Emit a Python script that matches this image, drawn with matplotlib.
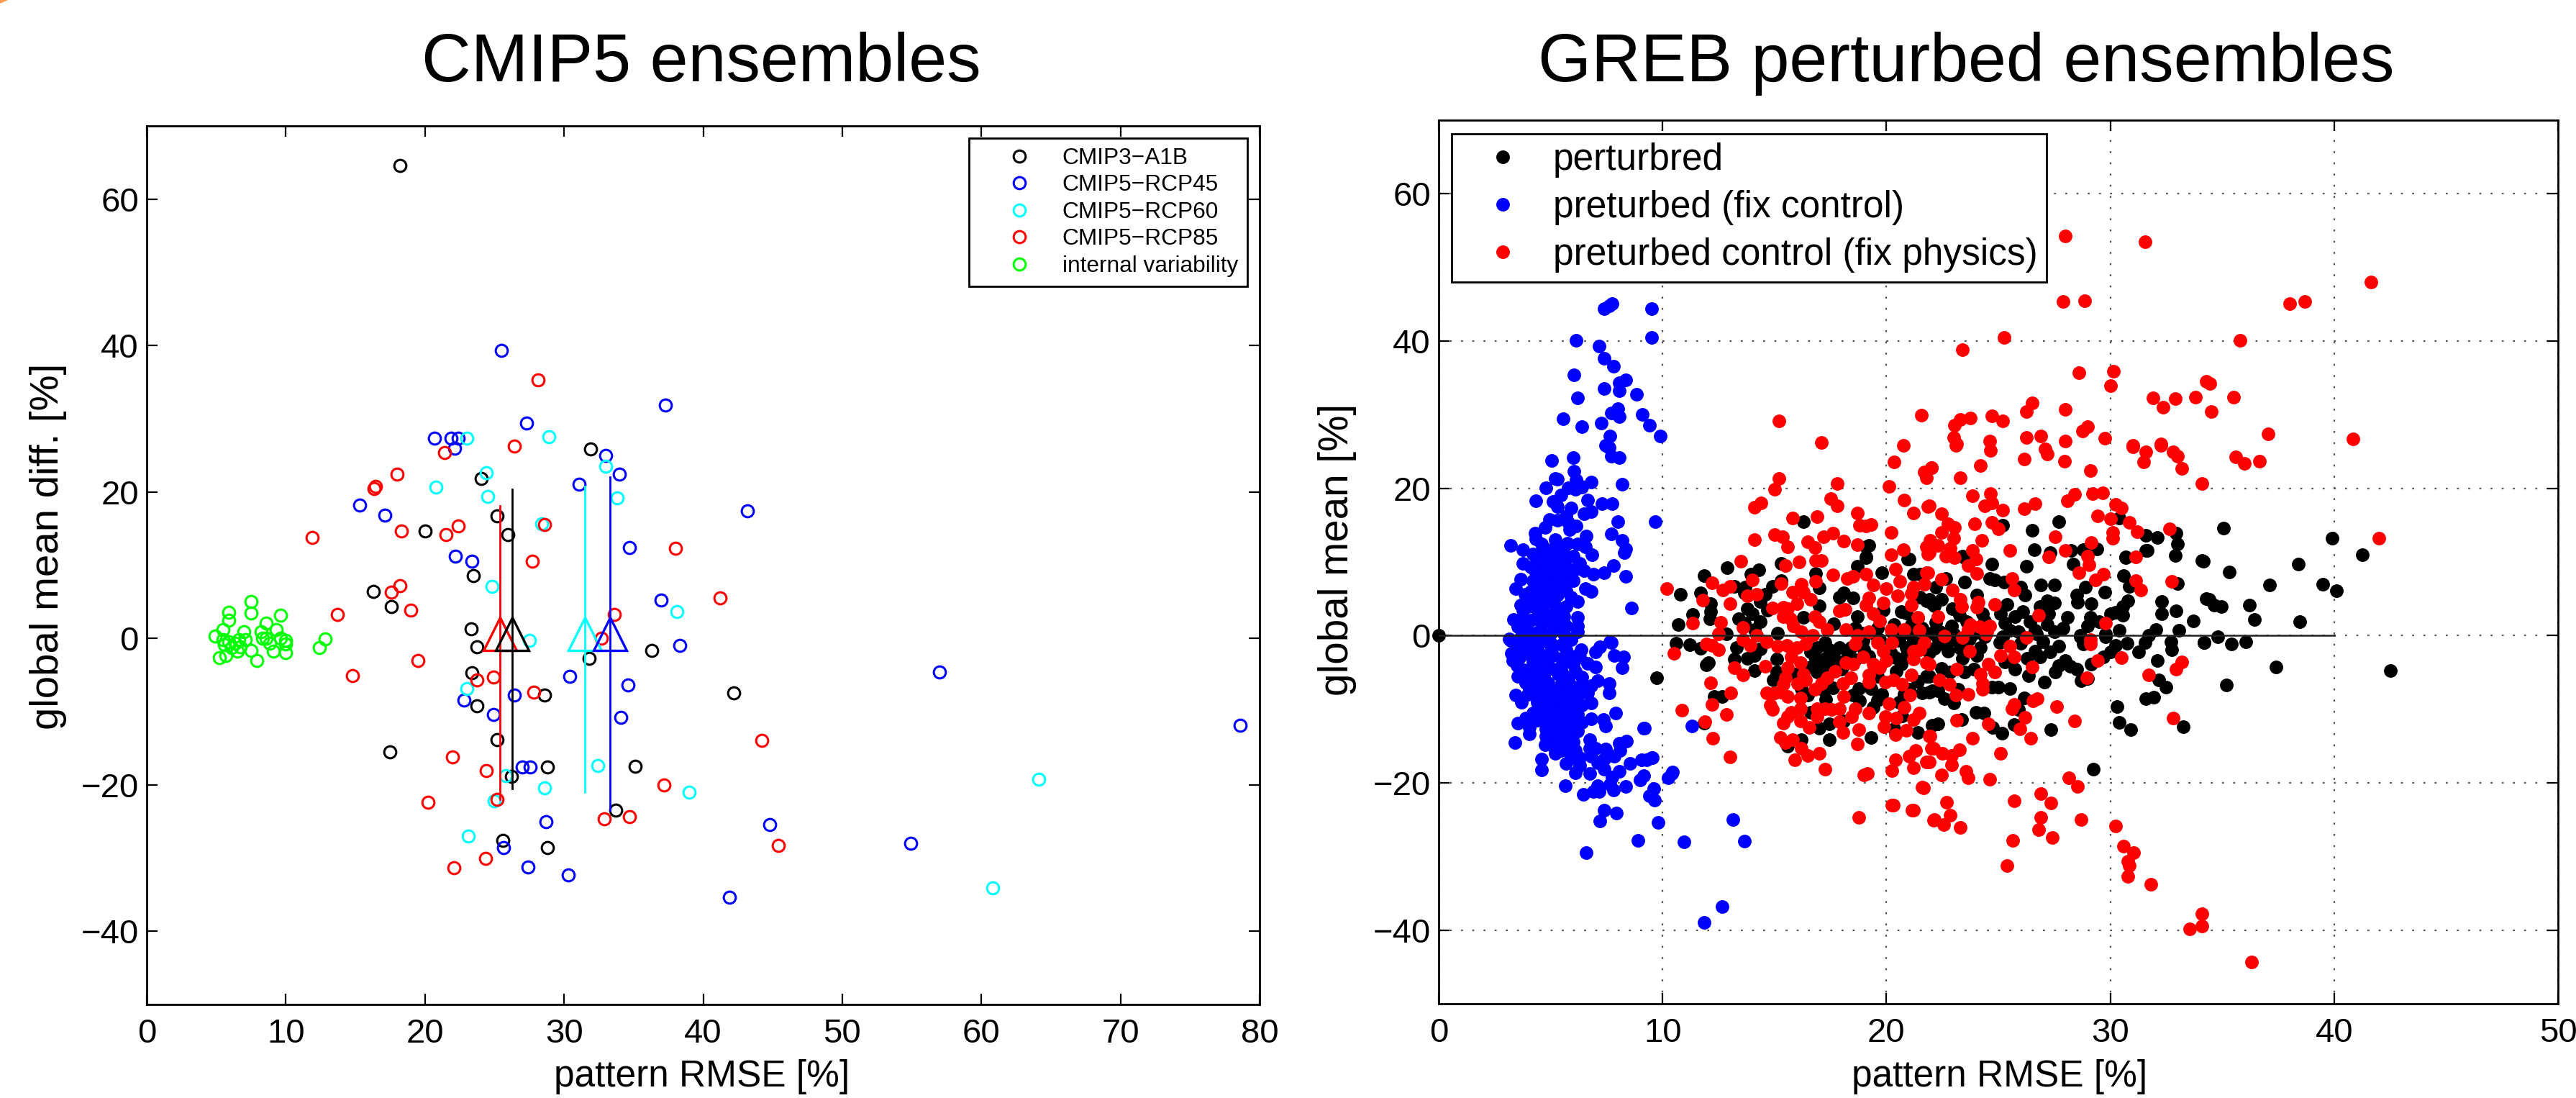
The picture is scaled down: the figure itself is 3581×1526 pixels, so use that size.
import numpy as np
import matplotlib
matplotlib.use("Agg")
import matplotlib.pyplot as plt
from matplotlib.patches import Polygon

plt.rcParams['font.family'] = ['Liberation Sans', 'DejaVu Sans']

W, H, DPI = 3581, 1526, 200

# --- left panel, CMIP ensembles (x = pattern RMSE, y = global mean diff.) ---
cmip3 = [(18.2,64.6),(31.9,25.9),(24.05,21.8),(25.2,16.7),(25.95,14.2),(20.0,14.7),(23.5,8.6),(16.3,6.4),
         (17.6,4.3),(23.3,1.3),(23.75,-1.2),(36.3,-1.6),(31.8,-2.7),(23.4,-4.7),(28.6,-7.7),(42.2,-7.4),
         (23.75,-9.2),(25.2,-13.8),(17.5,-15.5),(28.8,-17.6),(35.1,-17.5),(26.2,-18.8),(33.7,-23.5),
         (25.6,-27.6),(28.8,-28.6)]
rcp45 = [(25.5,39.3),(27.3,29.4),(37.3,31.9),(20.7,27.3),(21.9,27.3),(22.4,27.3),(22.15,26),(33,25),(34,22.4),
         (31.1,21.1),(15.3,18.2),(17.1,16.8),(43.2,17.4),(34.7,12.4),(22.2,11.2),(23.4,10.5),(37.0,5.2),
         (38.3,-1.0),(30.4,-5.2),(34.6,-6.4),(26.4,-7.7),(22.8,-8.4),(24.9,-10.4),(34.1,-10.8),(57.0,-4.6),
         (78.6,-11.9),(27.0,-17.6),(27.55,-17.6),(28.7,-25),(44.8,-25.4),(54.9,-28),(25.65,-28.6),(27.4,-31.2),
         (30.3,-32.3),(41.9,-35.4)]
rcp60 = [(23,27.3),(28.9,27.5),(33,23.5),(24.4,22.6),(20.8,20.7),(24.5,19.4),(33.8,19.2),(28.4,15.7),(24.8,7.1),
         (38.1,3.7),(27.5,-0.3),(23,-6.9),(32.4,-17.4),(25.8,-18.7),(28.6,-20.4),(39,-21),(25,-22.2),(64.1,-19.2),
         (23.1,-27),(60.8,-34.1)]
rcp85 = [(28.15,35.3),(26.4,26.3),(21.4,25.4),(18,22.4),(16.45,20.75),(16.35,20.5),(11.9,13.8),(18.3,14.7),
         (21.5,14.2),(22.4,15.4),(28.6,15.6),(38,12.3),(27.7,10.5),(41.2,5.5),(18.2,7.2),(17.6,6.3),(19,3.9),
         (13.7,3.3),(33.6,3.3),(32.7,0),(19.5,-3),(14.8,-5.1),(24.9,-5.3),(23.75,-5.7),(27.8,-7.3),(44.2,-13.9),
         (22,-16.2),(24.4,-18.1),(37.2,-20),(25.2,-22),(20.2,-22.4),(32.9,-24.6),(34.7,-24.3),(45.4,-28.3),
         (24.35,-30),(22.1,-31.3)]
internal = [(4.9,0.3),(5.9,3.6),(7.5,5),(7.5,3.5),(5.9,2.5),(9.6,3.2),(8.6,2.1),(5.5,1.25),(9.3,1.25),(7,0.9),
            (8.2,0.9),(12.8,-0.1),(12.4,-1.25),(10,-0.3),(10,-0.8),(10,-1.9),(5.2,-2.6),(5.7,-2.3),(7.9,-3),
            (7.5,-1.6),(9.1,-1.7),(6.5,-1.7),(5.6,-0.9),(6.1,-1.25),(6.7,-1.15),(7.1,-0.2),(6.6,-0.2),(8.3,0),
            (8.85,-0.7),(8.6,0),(9.6,0),(5.5,-0.2),(5.9,-0.5),(6.35,-0.7)]

# ensemble means with spread bars: x, low, high
mean_x = [25.4, 26.25, 31.5, 33.3]
mean_lo = [-22, -20.5, -21, -23.5]
mean_hi = [18.1, 20.4, 20.8, 22]
mean_y = 0.6

# --- right panel, GREB ensembles ---
perturbed = [(0,0),(16.3,15.45),(19.2,12.2),(19.1,10.55),(21,10.4),(18.7,9.4),(12.9,9.25),(15.3,9.8),(14.3,8.9),
    (11.85,8.1),(16.85,8.4),(19.8,8.5),(21.2,8.3),(21.5,8.35),(13.95,8.35),(13.2,6.65),(15.3,7.5),(17,6.5),(14.9,6.7),
    (13.7,6.55),(10.8,5.65),(11.7,5.75),(17.9,5.25),(18.1,5.75),(18.5,5.1),(14.6,5.6),(14.35,4.6),(13.65,5.75),
    (21.5,5.25),(21.8,4.75),(22.05,4.3),(12.15,4.3),(12.15,3.3),(17,4),(13.8,3.6),(14.7,3.45),(20.65,3.3),(20.9,3.1),
    (19.85,3.45),(11.35,2.85),(14,3),(18.7,2.6),(12.1,2.3),(13.4,2.3),(16.3,2.5),(10.7,1.5),(14.35,1.85),(13.65,1.65),
    (17.65,1.6),(20.35,1.5),(21.1,1.5),(21.6,1),(12.85,0.2),(15.15,0.35),(19.6,1),(18.6,1),(14.1,0.85),
    (9.75,-5.7),(10.6,-1.05),(11.2,-1.2),(11.7,-1.75),(12.05,-3.7),(11.95,-4),(13.3,-1.6),(13.2,-3.2),(13.8,-3.1),
    (14.1,-2.75),(14.35,-1.8),(14.1,-4.75),(12.3,-8.3),(12.65,-8.3),(11.85,-11.9),(14.95,-6),(15.1,-5),(15.1,-3.2),
    (16.8,-2.9),(17,-3.9),(16.6,-2.25),(17.45,-1.9),(17.9,-1.6),(17.25,-0.95),(17.65,-2.9),(15.95,-5.2),(18.75,-7.15),
    (19.3,-7.15),(18.5,-8.1),(19.8,-8),(19.6,-8.8),(21.8,-5.5),(21.6,-7.8),(22.05,-7.5),(20.65,-3.9),(20.45,-4.85),
    (20.9,-1.6),(20.55,-0.65),(21.4,-13.2),(19.3,-13.8),(17.45,-14.15),(17,-12.6),(17.45,-12),(18.1,-11.55),(16.2,-14.15),
    (15.6,-15),(20.35,-12.7),(20.7,-10.9),(20.55,-9.1),(18.4,-1.6),(18.95,-0.65),(22.05,-12.2),(16.5,-8.1),(16.2,-7.15),
    (16.6,-10.4),(19.6,-5.5),
    (27.7,15.45),(26.5,14.3),(25.2,14.95),(30.4,15.95),(31.6,13.6),(32.1,13.3),(32.95,13.95),(33,12.4),(31.6,11.55),
    (32.9,10.85),(34.15,10.1),(30.7,10.7),(26.6,11.7),(27.3,11.3),(28.25,11.55),(28.8,11.7),(29.4,11.75),(23.4,10.8),
    (24.7,9.7),(26.25,9.4),(28.35,9.7),(30.6,8.1),(30.85,6.7),(33,7.05),(24.6,7.8),(24.85,7.55),(25.25,7.25),(23.5,7.25),
    (22.65,7.75),(22.2,6.55),(26.9,6.85),(27.5,6.85),(28.9,6.55),(29.75,5.9),(28.5,5.5),(28.55,4.55),(29.15,4.3),
    (26.2,5.55),(26,6.55),(24.05,5.55),(21.9,4.9),(22.45,4.9),(22.15,4),(22.95,3.6),(25.4,4.25),(25.1,3),(27.2,4.75),
    (27.5,4.45),(26.85,3.95),(27.25,3),(32.3,4.6),(30.8,4.75),(30.55,3.95),(30.25,3.15),(30.55,2.8),(32.3,2.95),
    (32.95,3.35),(34.3,5),(34.65,4.1),(25.75,2.55),(24.3,3),(23.25,2.8),(29.1,2.5),(29.5,1.85),(29,1.35),(26.4,1.85),
    (27.2,1.5),(27.9,1.05),(26.65,0.7),(22.9,1.35),(25.3,1.65),(25.9,0.55),(30.4,0.75),(32.05,0.85),(33.05,0.75),
    (28.65,0.05),(29.8,0.2),(31.7,0.05),(25.5,0.7),(27.5,0.55),(22.4,0.55),
    (26.7,0.2),(34.2,-0.95),(32.7,-0.8),(32.75,-1.9),(31.55,-0.95),(31.25,-2.2),(32.1,-3.4),(32.15,-6),(32.5,-7),
    (31.6,-8.55),(31.95,-8.4),(30.3,-9.6),(30.4,-11.75),(30.9,-12.8),(33.25,-12.35),(29.25,-18.15),(27.35,-12.75),
    (30.75,-1),(30.25,-1.3),(30,-2.25),(29.7,-2.9),(29.15,-3.9),(28.8,-1.1),(28.65,-0.15),(29.8,-0.15),(28.5,-4.55),
    (28.2,-4.2),(28,-3.4),(27.7,-4.05),(27.55,-5),(27.05,-6.3),(28.7,-6.1),(29,-5.85),(26.35,-5.45),(25.75,-4.55),
    (25.3,-3.55),(26.65,-2.1),(26.85,-2.9),(26.3,-3.1),(25.05,-0.95),(24.2,-1.65),(24.05,-2.75),(23.4,-3.05),(22.15,-1.75),
    (22.75,-2.1),(22.45,-4.45),(22.85,-5),(23.5,-5),(23.9,-4.55),(21.9,-5.5),(25,-7),(24.7,-7),(25.5,-7.15),(23.2,-7.3),
    (22.3,-7.45),(21.9,-7.65),(22.6,-8.6),(23,-9.15),(26.15,-8.5),(25.9,-10.05),(24,-10.45),(24.35,-10.55),(23.35,-11.4),
    (22.3,-12),(24.75,-12.45),(25.15,-13.25),(25.7,-12.05),
    (42.5,-4.8),(37.4,-4.25),(35.2,-6.7),(39.5,6.95),(40.1,6.1),(37.1,6.85),(34.4,4.95),(34.95,3.95),(36.2,4.1),(36.45,2.15),
    (38.45,1.9),(34.8,-0.15),(35.4,-1.15),(36.05,-0.8),(34.2,-0.9),(38.4,9.7),(41.25,11),(35.3,8.65),(34.1,10.2),(35.05,14.6),
    (39.9,13.2),(31.65,11.6),(30.7,10.6),(23.5,10.6),(20.95,10.4),(19.1,12.1),(19.1,10.7),
    # dense middle of the cloud
    (16.9,-1.6),(17.3,-3.1),(17.9,-3.6),(18.3,-2.6),(18.6,-3.3),(19,-1.9),(19.2,-2.8),(19.7,-0.6),(20.2,-2.4),(20.4,-3),
    (20.9,-2.8),(21.2,-0.6),(21.5,-0.9),(21.9,-2.3),(22.3,-0.4),(22.6,-1.2),(23,-0.6),(23.3,-1.7),(23.7,-0.5),(24.4,-0.2),
    (16.6,-4.3),(16.9,-5),(17.4,-4.4),(18,-4.6),(17.2,-7.4),(17.6,-7.1),(17.3,-8.7),(18.8,-8.9),(19.4,-9.7),(21,-7.3),
    (21.4,-6.2),(20.8,-8),(18.9,0.3),(19.5,0.1),(20.3,0.2),(21,0.3),(22,0.3),(23,0.2),(24,0.4),(25.2,-0.2),(26,-1),(27,-0.8),
    (27.7,-1.4),(27.3,-2.2),(23.6,1.9),(24.4,2),(21.4,2.4),(22.2,1.8),(26.1,3.3),(28.1,2.5),(30,3),(33.7,2)]

fix_control = [(7.75,45.1),(7.4,44.4),(7.6,44.8),(9.5,44.4),(9.5,40.5),(6.15,40.1),(7.15,39.3),(7.4,37.7),(7.8,36.55),(6.05,35.4),
    (8.35,34.7),(8.05,34.3),(7.4,33.55),(8.05,33.25),(8.85,32.8),(6.2,32.25),(8,30.8),(7.7,30.2),(8.05,29.7),(9.1,30),(9.4,28.6),
    (5.55,29.4),(7.25,28.9),(6.4,28.4),(9.9,27.1),(7.65,27.1),(7.45,25.85),(7.6,25.5),(7.7,24.35),(8.05,24.2),(6,24.2),(5.05,23.75),
    (6.05,22.35),(5.2,21.35),(6.15,21.1),(6.8,20.85),(8.2,20.6),(5.8,20.1),(6.35,20.25),(4.8,20.1),
    (5.3,21.2),(6.4,20.2),(6.1,19.9),(5.45,19.1),(4.35,18.35),(5.1,18.2),(5.3,17.55),(6.65,18.4),(7.3,17.95),(7.75,17.95),
    (5.9,17.3),(5.7,16.3),(6.8,16.8),(6.5,16.5),(8,15.45),(4.95,15.75),(5.3,15.7),(4.75,14.7),(5.8,15.35),(6.15,14.85),(5.85,14.35),
    (7.7,13.8),(4.3,13.95),(4.35,13.1),(6.6,13.5),(8.2,12.9),(8.35,11.75),(8.3,11.25),(3.2,12.25),(3.75,11.7),(5.2,13.05),(5.75,12.55),
    (6.2,12.4),(6.55,12.1),(4.65,11.9),(6.85,10.95),(4.2,11.1),(5.15,11.4),(5.55,11.4),(6,10.8),(3.75,9.85),(4.5,10.1),(5.05,9.8),
    (5.45,9.8),(6.3,9.8),(7.8,9.55),(7.4,8.55),(6.9,8.35),(6.5,8.8),(8.35,8),(4.3,8.8),(4.8,8.5),(5.65,8.5),(3.65,7.7),(4.2,7.5),
    (4.7,7.35),(6,7.5),(5.25,7.5),(3.45,6.4),(4.3,6.55),(4.7,6.2),(3.85,5.6),(6.55,6.4),(6.8,5.95),(5.3,5.55),(5.7,6.05),(6.2,4.6),
    (3.65,4.1),(4.05,4.75),(3.75,3.45),(8.6,3.7),(4.7,4.25),(5.25,3.95),(5.7,3.95),(4.5,2.95),(3.35,2.15),(6.2,2.5),(6.2,1.35),
    (5.35,1.65),(5.7,1.35),(4.6,1.65),(3.55,1.2),(3.95,0.7),(4.55,0.7),(6.2,0.5),(5.15,1.35),(9.66,15.45),
    (3.15,-0.45),(5.9,-0.6),(7.65,-0.8),(3.2,-0.65),(3.65,-0.3),(4.2,-0.3),(4.8,-0.3),(5.9,-0.45),(6.35,-1.95),(7.2,-1.55),(7.7,-0.95),
    (7.85,-2.75),(8.25,-2.9),(8.2,-4.4),(3.25,-2.4),(3.75,-1.95),(4.4,-1.75),(5.05,-1.6),(5.7,-1.95),(6.3,-2.9),(6.65,-3.8),(3.5,-4.05),
    (4.2,-3.55),(4.8,-3.55),(5.45,-4.2),(6,-3.9),(3.55,-5.5),(4.2,-5.2),(4.7,-5.35),(5.35,-5.2),(5.8,-5.85),(6.4,-5.6),(7.1,-6.15),
    (6.8,-6.8),(7.6,-6.5),(7.6,-7.8),(3.45,-8.1),(4.05,-7.15),(4.6,-7.15),(5.15,-7.45),(5.7,-7.8),(6.2,-8.1),(6.65,-7.8),(6.8,-9.2),
    (3.7,-9.1),(4.4,-9.1),(4.9,-9.1),(5.45,-9.25),(4.2,-10.55),(4.7,-10.7),(5.25,-10.9),(5.7,-10.7),(6.2,-10.7),(7.9,-10.55),(6.8,-11.3),
    (7.35,-11.4),(7.45,-12.3),(3.55,-11.85),(3.9,-11.2),(4.05,-12.5),(4.05,-13.35),(4.8,-12.7),(5.25,-12.35),(5.65,-12.7),(6.2,-13),
    (3.4,-14.55),(4.75,-14.8),(4.8,-13.65),(5.35,-14),(5.9,-14),(5.45,-15.6),(6.75,-14.1),(6.75,-15.3),(6.1,-15.6),(6.3,-16.6),(9.15,-12.6),
    (8.4,-14.3),(8.05,-14.6),(7.45,-15.45),(7,-15.3),(7.85,-16.4),(8.1,-15.6),(4.6,-16.8),(4.6,-18.2),(5.7,-17.4),(6.1,-18.65),(6.3,-17.7),
    (6.75,-18.75),(7.1,-17.25),(7.4,-18.15),(8.05,-18.45),(7.75,-19.2),(8.55,-17.35),(9.05,-16.9),(9.3,-16.9),(9,-19.6),(9.15,-19),(5.65,-20.4),
    (7.1,-20.35),(7.65,-20.2),(8.35,-20.5),(7.8,-21),(6.9,-21.15),(7.15,-21.15),(6.45,-21.6),(9.4,-21.8),(7.4,-23.75),(7.95,-24.1),(7.2,-25.15),
    (8.9,-27.8),(6.6,-29.45),(11.3,-12.3),(9.55,-16.6),(10.4,-18.7),(10.25,-19.35),(9.6,-20.8),(9.65,-22.3),(9.8,-25.4),(13.15,-25),
    (13.65,-27.9),(10.95,-28),(12.65,-36.8),(11.85,-38.95),(10.45,-18.5),(9.5,-16.6),(9.2,-12.6),
    # solid core of the blue cloud
    (3.9,-6.4),(4.9,-6.4),(5.5,-6.4),(4.3,-8.2),(5,-4.5),(4.4,3.5),(5,2.4),(5.4,3),(4.7,5.3),(5.1,7),(5.2,9),(5.6,10.7),
    (3.5,-1.2),(4,-1),(4.5,-1),(5,-1),(5.5,-1.2),(3.6,-3),(4.1,-2.7),(4.6,-2.6),(5.1,-2.7),(5.6,-3),(6.1,-2.8),(3.8,-4.7),(4.4,-4.5),
    (5.5,-5),(6.1,-4.9),(3.9,-6.3),(4.4,-6.2),(5.9,-6.8),(6.3,-7),(4,-8),(4.8,-8.2),(5.3,-8.3),(5.9,-9),(6.4,-9.4),(4.5,-9.9),(5,-10),
    (5.5,-10),(6,-9.8),(4.4,-11.5),(4.9,-11.5),(5.4,-11.6),(5.9,-11.7),(6.4,-11.8),(5,-13),(5.5,-13.3),(6,-14.4),(5.1,-15),(5.7,-15),
    (5.2,-16),(5.9,-16.6),(6.8,-16.4),(7.4,-16.8),(4.4,0.4),(5,0.3),(5.6,0.2),(3.7,2.3),(4.1,2.1),(4.9,2.8),(5.6,2.6),(4,3.9),(4.5,4.9),
    (5.1,5),(5.9,5.2),(4.1,6),(5,6.3),(5.5,7),(4.6,8),(5.2,8.3),(4.1,9.3),(4.9,9.3),(5.7,9.3),(6.1,9),(4.8,10.7),(5.4,10.6),(4.6,12.4),
    (5.2,12.2),(3.3,-3.4),(7,-2.2),(7,-4.3)]

fix_physics = [(15.2,21.3),(15.0,19.9),(17.8,20.7),(14.4,18),(14.1,17.4),(17.5,18.6),(17.8,17.6),(15.8,16),(16.9,16.2),(18.7,16.6),(18.8,15),
    (19.1,14.9),(19.3,15.1),(20.1,20.3),(20.35,23.6),(20.8,18.4),(21.2,16.6),(21.85,17.5),(20.2,14),(21.7,22.2),(22,22.8),(21.8,21.4),
    (14.1,13),(15,13.7),(15.35,13.45),(15.6,12.1),(16.5,12.75),(16.8,12),(17.2,13.4),(17.6,13.9),(18.1,12.8),(18.7,12.35),(20.2,11),(20.75,11.7),
    (21.8,12.1),(21.85,11.1),(13.5,10.1),(16.1,10),(16.85,10.2),(17.1,10.2),(15.5,9.55),(20.4,9),(17.6,8.2),(18.25,7.8),(18.5,8),(19.1,8.35),
    (21.8,8.5),(14,7.6),(16.85,7.4),(20.6,7.4),(12.2,7.2),(10.2,6.4),(13,6.7),(12.7,6.2),(15.3,7.1),(16.2,7),(19.4,6.9),(20,6.4),(21.7,7),(21.2,6.55),
    (15.8,5.9),(16.3,5.9),(14.2,5.6),(13.8,5.4),(20.5,5.4),(21.1,5.7),(11.8,4.8),(13,4.3),(16.6,4.9),(19.2,5.1),(19.85,4.45),(19.1,4.1),(21.1,4.1),
    (16,4.3),(14.9,3.7),(15.4,3.8),(15.6,3.6),(17.9,3.35),(18.15,3.55),(19.4,3),(21.4,2.5),(15.4,2.6),(15.7,2.3),(16.8,2.6),(17,1.85),(19.7,2),
    (12.6,1.8),(11.35,1.7),(13.6,1.1),(15.85,1.35),(17.35,0.8),(18.2,0.85),(20.2,0.85),(20.8,0.85),(21.45,0.7),(12.5,0.2),(14.2,0.05),(16.2,0.5),
    (19.2,0.5),(18.7,0.05),(16.7,0.05),
    (10.5,-2.4),(11.95,-1.1),(12.2,-1.3),(12.5,-1.9),(13.2,-4.4),(13.6,-5.35),(14.6,-4.2),(12.15,-6.4),(13.05,-7.8),(12.2,-9.3),(10.85,-10.1),
    (12.85,-10.7),(11.9,-11.7),(12.25,-13.9),(13,-16.5),(13.9,-1.3),(13.6,-0.6),(14.65,-0.8),(15.15,-1.45),(15.55,-1.3),(16,-1.6),(16.4,-1.1),
    (15.75,-2.9),(16.15,-3.7),(15.6,-4.4),(15.5,-5.7),(15.4,-6.65),(16.3,-5.2),(16.4,-6),(16.05,-6.5),(17.7,-4.85),(17.35,-5.7),(17.1,-6.5),(16.8,-7.3),
    (18.2,-3.7),(18.5,-3.9),(18.95,-2.9),(18.4,-5.7),(18.05,-6.5),(18.1,-8.3),(19.2,-5.35),(19.2,-6.3),(19.4,-3.9),(19.7,-4.4),(20,-3.4),(19.85,-2.1),
    (19.6,-0.95),(20.25,-0.95),(18.6,-1.1),(19.95,-6.3),(20.3,-6),(20.7,-6.65),(21.1,-5.35),(21.05,-8.1),(21.2,-2.1),(21.5,-1.95),(21.7,-0.95),(21.8,-3.7),
    (21.2,-3.2),(20.1,-9.25),(20.8,-9.75),(20.45,-11.2),(19.95,-11),(19.9,-12.35),(21.45,-10.55),(21.2,-11.4),(20.9,-12.85),(20.4,-13.5),(21.9,-13.65),
    (14.65,-7.8),(15,-7.8),(15.3,-7.65),(15.6,-8.3),(16.15,-8.5),(14.8,-9.4),(14.9,-10),(15.75,-10.4),(16.15,-9.9),(15.6,-11),(15.4,-11.85),(16.15,-11.55),
    (16.55,-12.5),(16.9,-9.9),(16.9,-11.05),(17.25,-9.9),(17.55,-10.05),(17.9,-9.9),(17.9,-11.7),(18.6,-9.9),(18.45,-11.05),(19.2,-10.55),(18.05,-13.2),
    (18.75,-12.8),(18.7,-14.7),(15.25,-13.8),(15.8,-14.15),(15.5,-14.5),(16.2,-15.3),(16.5,-16.3),(17,-16),(15.9,-16.85),(17.25,-18.1),(19,-18.9),(19.15,-18.7),
    (20.4,-16.9),(20.25,-18.3),(21,-16.4),(21.3,-15.6),(21.2,-17.9),(21.8,-17.15),(22,-15.3),(21.6,-20.6),(20.25,-23),(21.15,-23.7),(18.75,-24.7),(22.1,-25.05),
    (23.1,25.8),(24.65,25.1),(22,22.85),(24.2,23.1),(23.3,21.4),(26.15,24),(27.1,25.3),(27.2,24.7),(27.95,23.7),(29.1,22.4),(31,25.6),(31.6,25),(31.5,23.55),
    (32.25,25.8),(32.8,25),(33,24.4),(33.2,22.7),(34.1,20.7),(23.85,19),(24.65,19.25),(24.7,18),(24.4,17.6),(25.2,17),(26.15,17.2),(26.65,17.9),(28.4,19.15),
    (28.1,18.35),(29.2,19.25),(29.65,19.35),(30.25,17.85),(30.5,17.3),(29.45,16.25),(30,15.9),(30.85,15.35),(31.2,14.1),(32.65,14.5),(30.1,14),(30.1,13.2),
    (21.9,17.6),(22.45,16.5),(22.75,15.2),(23.05,14.65),(22.45,14),(23,13.2),(23.95,15.2),(24.7,15.35),(25,14.5),(24.25,12.9),(22.3,12.25),(21.95,12.9),
    (22.85,11.9),(21.9,11.25),(22.65,10.8),(23.05,10.6),(23.85,11.6),(24,10.4),(23.65,9.5),(24.05,8.45),(25.5,11.6),(27.55,13.4),(28,11.6),(27.25,10.7),
    (29.15,12.65),(29,10.8),(29.05,9.6),(28.6,8.5),(29.35,7.6),(29.7,8.3),(31.15,10.7),(31.15,7.5),(31.35,6.15),(32.75,7.35),(25.6,7.8),(25.7,6.2),(22.45,7.7),
    (22.95,6.2),(21.85,8.5),(23.3,4.9),(23.35,3.9),(24.1,4.55),(24.05,3.8),(24.85,4.2),(22.3,2.55),(26.8,2.8),(29.8,1.65),(23.75,1.5),(24.15,1.2),(24.6,1.35),
    (23.65,0.85),(24.5,0.55),(22.6,-0.1),(23.4,-0.3),(26.25,-0.3),(29.1,-0.6),
    (24.45,0.2),(23.7,-2.15),(25.5,-1.45),(25.1,-2.7),(25.7,-2.9),(29.1,-1.1),(29.45,-3.35),(30.5,-3),(33.2,-3.55),(32.95,-4.55),(31.7,-5.35),(28.95,-5.75),
    (26.5,-4.3),(21.9,-3.9),(23.15,-4.55),(24.55,-3.9),(24.85,-5),(24.2,-5.2),(24.3,-6.5),(24.3,-7.3),(22.35,-6.05),(22.8,-6.6),(23.1,-8.1),(23.65,-8),(26.75,-8.6),
    (26.55,-8.85),(25.7,-9.3),(25.6,-9.9),(27.6,-9.6),(26.2,-11.1),(28.4,-11.6),(32.8,-11.2),(23.15,-11.45),(24.55,-11.95),(25.95,-12.7),(26.45,-13.9),(23.85,-13.9),
    (21.95,-13.65),(22.1,-15.3),(22.5,-15.95),(22.9,-16.25),(23.25,-15.5),(21.9,-17.15),(22.9,-17.55),(25.1,-15.95),(23.55,-18.4),(23.65,-19.3),(22.45,-18.9),
    (24.6,-19.5),(28.15,-19.35),(28.55,-20.5),(26.9,-21.5),(27.35,-22.7),(25.7,-22.4),(22.7,-22.6),(22.85,-24.4),(22.15,-25),(22.55,-25.7),(23.3,-26.1),(26.9,-24.7),
    (28.7,-25),(30.25,-25.9),(26.8,-26.4),(27.4,-27.4),(25.65,-27.85),(25.4,-31.2),(30.6,-28.6),(31.05,-29.5),(30.8,-30.7),(30.85,-31.2),(30.8,-32.7),(31.8,-33.8),
    (34.1,-37.8),(34.1,-39.4),(33.55,-39.8),(36.3,-44.35),(20.3,-23),(21.2,-23.7),(21.65,-20.7),
    (28,54.3),(31.55,53.5),(41.65,48),(27.9,45.4),(28.85,45.45),(38,45.1),(38.7,45.4),(25.25,40.45),(23.4,38.85),(35.8,40.1),(28.6,35.7),(30.15,35.9),(30,33.95),
    (34.3,34.55),(34.45,34.2),(31.9,32.3),(32.35,31.05),(32.9,32.2),(33.8,32.4),(35.5,32.4),(34.5,30.4),(26.5,31.55),(26.25,30.4),(28,30.7),(15.2,29.2),(21.55,29.9),
    (23.75,29.55),(23.3,29.3),(23.05,28.6),(24.7,29.85),(25.2,29.2),(29,28.4),(28.75,27.75),(37.05,27.4),(40.85,26.7),(17.1,26.25),(20.75,25.8),(23,26.95),(23.15,26),
    (24.6,26.4),(26.25,26.9),(26.9,27.1),(28,26.4),(29.75,26.8),(31,25.8),(32.25,26),(35.6,24.3),(36,23.4),(36.65,23.7),(42,13.2)]

# --- tick and legend text ---
left_xticks = [0, 10, 20, 30, 40, 50, 60, 70, 80]
right_xticks = [0, 10, 20, 30, 40, 50]
yticks = [-40, -20, 0, 20, 40, 60]
left_legend = ['CMIP3\u2212A1B', 'CMIP5\u2212RCP45', 'CMIP5\u2212RCP60', 'CMIP5\u2212RCP85', 'internal variability']
right_legend = ['perturbred', 'preturbed (fix control)', 'preturbed control (fix physics)']


def axes_rect(x0, x1, top, bottom):
    # pixel box of the axes -> figure fractions
    return [x0 / W, 1 - bottom / H, (x1 - x0) / W, (bottom - top) / H]


def style(ax, xticks, xmax):
    ax.set_xlim(0, xmax)
    ax.set_ylim(-50, 70)
    ax.set_xticks(xticks)
    ax.set_yticks(yticks)
    ax.tick_params(direction='in', length=5.4, width=0.8, top=True, right=True, labelsize=17)
    ax.tick_params(axis='x', pad=7)
    ax.tick_params(axis='y', pad=4)
    for s in ax.spines.values():
        s.set_linewidth(1.0)


fig = plt.figure(figsize=(W / DPI, H / DPI), dpi=DPI)

# ---- CMIP5 panel ----
ax1 = fig.add_axes(axes_rect(204, 1751, 175, 1396))
series1 = [cmip3, rcp45, rcp60, rcp85, internal]
colors1 = ['black', '#0000ff', '#00ffff', '#ff0000', '#00ff00']
for data, c, lab in zip(series1, colors1, left_legend):
    xy = np.array(data)
    ax1.plot(xy[:, 0], xy[:, 1], 'o', mfc='none', mec=c, ms=6.0, mew=1.1, label=lab)

mean_colors = ['#ff0000', 'black', '#00ffff', '#0000ff']
for mx, lo, hi, c in zip(mean_x, mean_lo, mean_hi, mean_colors):
    ax1.plot([mx, mx], [lo, hi], color=c, lw=1.0)
    ax1.plot([mx], [mean_y], '^', mfc='none', mec=c, ms=16.5, mew=1.2)

style(ax1, left_xticks, 80)
ax1.legend(loc='upper left', bbox_to_anchor=(1347 / W, 1 - 192 / H), bbox_transform=fig.transFigure,
           borderaxespad=0, fontsize=11.4, fancybox=False, framealpha=1, edgecolor='black',
           handlelength=3.6, handletextpad=0.1, borderpad=0.4, labelspacing=0.24, numpoints=1)

# ---- GREB panel ----
ax2 = fig.add_axes(axes_rect(2000, 3556, 167, 1395))
ax2.grid(True, color='#555555', lw=0.8, linestyle=(0, (1.2, 5.8)))
ax2.set_axisbelow(True)
series2 = [perturbed, fix_control, fix_physics]
colors2 = ['black', '#0000ff', '#ff0000']
for data, c, lab in zip(series2, colors2, right_legend):
    xy = np.array(data)
    ax2.plot(xy[:, 0], xy[:, 1], 'o', color=c, mec='none', ms=6.8, label=lab, clip_on=False, zorder=3)
ax2.plot([0, 40], [0, 0], color='#222222', lw=0.9, zorder=4)

style(ax2, right_xticks, 50)
leg2 = ax2.legend(loc='upper left', bbox_to_anchor=(2018 / W, 1 - 186 / H), bbox_transform=fig.transFigure,
                  borderaxespad=0, fontsize=18.5, fancybox=False, framealpha=1, edgecolor='black',
                  handlelength=2.3, handletextpad=0.2, borderpad=0.24, labelspacing=0.33, numpoints=1)
leg2.set_zorder(10)

# ---- titles and axis labels ----
fig.text(975 / W, 1 - 113 / H, 'CMIP5 ensembles', fontsize=34.3, ha='center', va='baseline')
fig.text(2733 / W, 1 - 113 / H, 'GREB perturbed ensembles', fontsize=34.3, ha='center', va='baseline')

fig.text(976 / W, 1 - 1510 / H, 'pattern RMSE [%]', fontsize=18.5, ha='center', va='baseline')
fig.text(2780 / W, 1 - 1510 / H, 'pattern RMSE [%]', fontsize=18.5, ha='center', va='baseline')
fig.text(67 / W, 1 - 759 / H, 'global mean diff. [%]', fontsize=20.3, rotation=90, ha='center', va='center')
fig.text(1859 / W, 1 - 764 / H, 'global mean [%]', fontsize=20.4, rotation=90, ha='center', va='center')

# orange scrap in the top left corner of the source image
fig.add_artist(Polygon([(0, 1), (11 / W, 1), (0, 1 - 5 / H)], closed=True, transform=fig.transFigure,
                       facecolor='#ff9a4a', edgecolor='none'))

fig.savefig('out.png', dpi=DPI)
